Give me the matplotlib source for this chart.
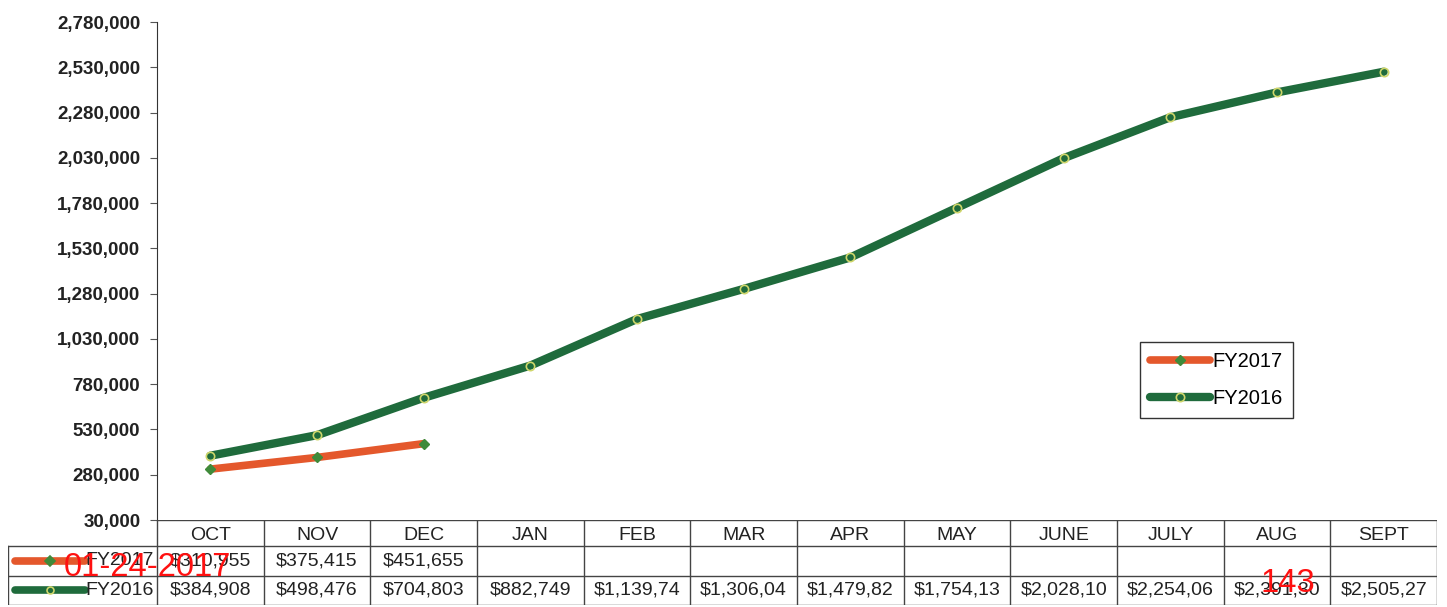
import numpy as np
import matplotlib
matplotlib.use('Agg')
import matplotlib.pyplot as plt
from matplotlib.ticker import FuncFormatter

plt.rcParams['font.family'] = ['Liberation Sans', 'DejaVu Sans']

# ---- data -------------------------------------------------------------
MONTHS = ['OCT', 'NOV', 'DEC', 'JAN', 'FEB', 'MAR', 'APR', 'MAY',
          'JUNE', 'JULY', 'AUG', 'SEPT']
FY2017 = [310955, 375415, 451655]
FY2016 = [384908, 498476, 704803, 882749, 1139740, 1306040, 1479820,
          1754130, 2028100, 2254060, 2391300, 2505270]
Y_TICKS = list(range(30000, 2780001, 250000))

GREEN = '#1f6b3c'
ORANGE = '#e4582c'
MK_GREEN = '#3f8a3a'
MK_YELLOW = '#cfd66a'

W, H = 1447, 607
fig = plt.figure(figsize=(W / 100, H / 100), dpi=100)

# column geometry (pixels)
X_LEFT_TBL = 8
X_COL0 = 157
X_RIGHT = 1437
Y_TOP = 22
Y_AXIS = 520
Y_TBL_BOT = 605

ncol = len(MONTHS)
col_w = (X_RIGHT - X_COL0) / ncol
label_cols = (X_COL0 - X_LEFT_TBL) / col_w

# ---- main chart ---------------------------------------------------------
ax = fig.add_axes([X_COL0 / W, 1 - Y_AXIS / H,
                   (X_RIGHT - X_COL0) / W, (Y_AXIS - Y_TOP) / H])
x = np.arange(ncol)
ax.plot(x, FY2016, color=GREEN, lw=6, solid_capstyle='round',
        marker='o', ms=6, mfc='none', mec=MK_YELLOW, mew=1.2,
        label='FY2016', zorder=3)
ax.plot(x[:len(FY2017)], FY2017, color=ORANGE, lw=5.5,
        solid_capstyle='round', marker='D', ms=5, mfc=MK_GREEN,
        mec=MK_GREEN, label='FY2017', zorder=4)

ax.set_xlim(-0.5, ncol - 0.5)
ax.set_ylim(Y_TICKS[0], Y_TICKS[-1])
ax.set_yticks(Y_TICKS)
ax.yaxis.set_major_formatter(FuncFormatter(lambda v, p: f'{int(v):,}'))
ax.set_xticks([])
for s in ('top', 'right', 'bottom'):
    ax.spines[s].set_visible(False)
ax.spines['left'].set_color('#333333')
ax.tick_params(axis='y', length=5, color='#555555', labelsize=13.5,
               pad=7)
for t in ax.get_yticklabels():
    t.set_fontweight('bold')
    t.set_color('#222222')

h, l = ax.get_legend_handles_labels()
leg = ax.legend(h[::-1], l[::-1], loc='upper left',
                bbox_to_anchor=((1140 - X_COL0) / (X_RIGHT - X_COL0),
                                1 - (342 - Y_TOP) / (Y_AXIS - Y_TOP)),
                fontsize=14.5, fancybox=False, edgecolor='#333333',
                handlelength=3.0, handletextpad=0.1, labelspacing=0.9,
                borderpad=0.5, framealpha=1, borderaxespad=0)
leg.get_frame().set_linewidth(1.0)

# ---- data table ---------------------------------------------------------
tax = fig.add_axes([X_LEFT_TBL / W, 1 - Y_TBL_BOT / H,
                    (X_RIGHT - X_LEFT_TBL) / W,
                    (Y_TBL_BOT - Y_AXIS) / H])
tax.set_xlim(-0.5 - label_cols, ncol - 0.5)
tax.set_ylim(0, Y_TBL_BOT - Y_AXIS)
tax.axis('off')

row_y = [0, 29.5, 59, Y_TBL_BOT - Y_AXIS]   # bottom edges of rows
lc = '#444444'
x0, x1 = -0.5 - label_cols, ncol - 0.5
# horizontal rules
tax.plot([-0.5, x1], [row_y[3]] * 2, color=lc, lw=1)
for yy in row_y[:3]:
    tax.plot([x0, x1], [yy] * 2, color=lc, lw=1)
# vertical rules
tax.plot([x0, x0], [0, row_y[2]], color=lc, lw=1)
for i in range(ncol + 1):
    tax.plot([i - 0.5] * 2, [0, row_y[3]], color=lc, lw=1)

def money(v):
    return f'${v:,}'[:9]

FS = 14
for i, m in enumerate(MONTHS):
    tax.text(i, (row_y[2] + row_y[3]) / 2 - 2, m, ha='center',
             va='center', fontsize=FS, color='#222222')
for i, v in enumerate(FY2017):
    tax.text(i, (row_y[1] + row_y[2]) / 2, money(v), ha='center',
             va='center', fontsize=FS, color='#222222')
for i, v in enumerate(FY2016):
    tax.text(i, (row_y[0] + row_y[1]) / 2, money(v), ha='center',
             va='center', fontsize=FS, color='#222222')

# series keys in the label column
kx = [x0 + 0.07, x0 + 0.72]
for name, color, mk, mfc, mec, yy in [
        ('FY2017', ORANGE, 'D', MK_GREEN, MK_GREEN, (row_y[1] + row_y[2]) / 2),
        ('FY2016', GREEN, 'o', 'none', MK_YELLOW, (row_y[0] + row_y[1]) / 2)]:
    tax.plot(kx, [yy, yy], color=color, lw=5.5, solid_capstyle='round')
    tax.plot([sum(kx) / 2], [yy], marker=mk, ms=5, mfc=mfc, mec=mec,
             mew=1.2, color=color)
    tax.text(kx[1] + 0.01, yy, name, ha='left', va='center', fontsize=FS,
             color='#222222')

# red stamps
fig.text(147 / W, 1 - 568 / H, '01-24-2017', color='#ff1010',
         fontsize=23.5, ha='center', va='center')
fig.text(1288 / W, 1 - 584 / H, '143', color='#ff1010',
         fontsize=23.5, ha='center', va='center')

fig.savefig('out.png', dpi=100, facecolor='white')
